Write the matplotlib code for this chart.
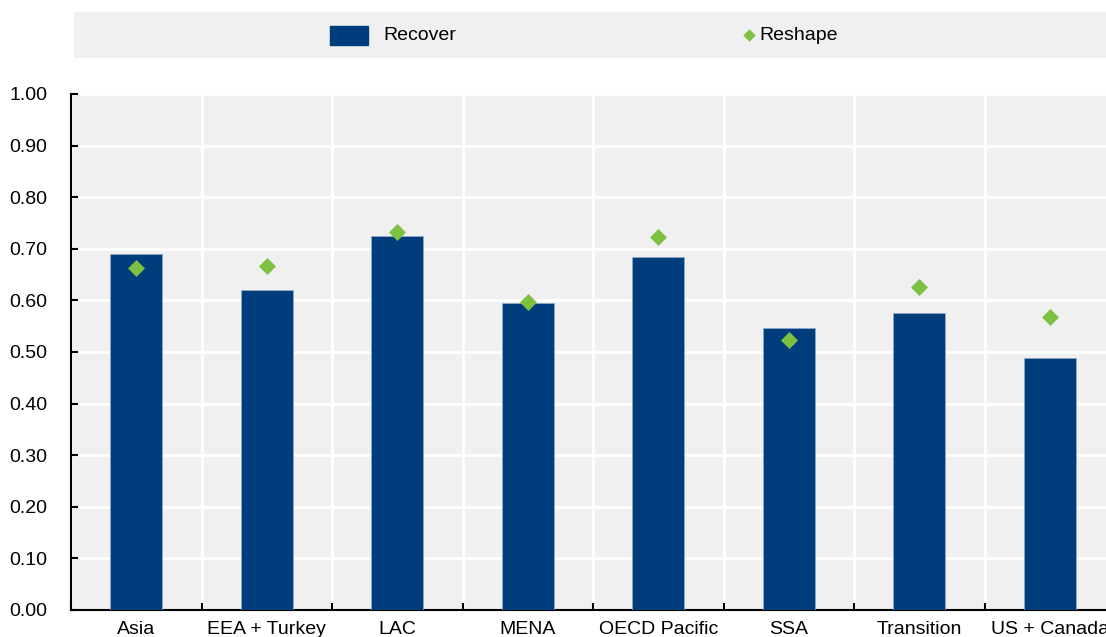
import matplotlib
matplotlib.use("Agg")
import matplotlib.pyplot as plt
from matplotlib import font_manager
import numpy as np

regions = ["Asia", "EEA + Turkey", "LAC", "MENA", "OECD Pacific", "SSA", "Transition", "US + Canada"]
recover = [0.690, 0.620, 0.725, 0.595, 0.684, 0.547, 0.576, 0.488]
reshape = [0.663, 0.667, 0.733, 0.597, 0.723, 0.523, 0.626, 0.568]
yticks = [0.0, 0.1, 0.2, 0.3, 0.4, 0.5, 0.6, 0.7, 0.8, 0.9, 1.0]

names = {f.name for f in font_manager.fontManager.ttflist}
family = "Liberation Sans Narrow" if "Liberation Sans Narrow" in names else "Liberation Sans"
plt.rcParams["font.family"] = [family, "DejaVu Sans"]

BAR = "#003D7C"
DIAMOND = "#7DC142"
BG = "#F0F0F0"

W, H = 1106, 637
fig = plt.figure(figsize=(W / 100, H / 100), dpi=100)

# main axes: left spine at x=71, bottom at y=610, top (1.00) at y=94
x0, x1 = 71, 71 + 8 * 130.5
ax = fig.add_axes([x0 / W, (H - 610) / H, (x1 - x0) / W, (610 - 94) / H])
ax.set_facecolor(BG)

x = np.arange(len(regions))
ax.bar(x, recover, width=0.40, color=BAR, edgecolor="#8FA9C8", linewidth=0.6, zorder=3)
ax.scatter(x, reshape, marker="D", s=75, color=DIAMOND, zorder=4, linewidths=0)

ax.set_xlim(-0.5, len(regions) - 0.5)
ax.set_ylim(0, 1.0)
ax.set_yticks(yticks)
ax.set_yticklabels([f"{v:.2f}" for v in yticks], fontsize=14)

# category labels centred, ticks on boundaries
ax.set_xticks(x)
ax.set_xticklabels(regions, fontsize=14)
ax.tick_params(axis="x", which="major", length=0, pad=8)
ax.set_xticks(np.arange(len(regions) + 1) - 0.5, minor=True)
ax.tick_params(axis="x", which="minor", direction="in", length=5, width=1.5, color="black")
ax.tick_params(axis="y", direction="in", length=5, width=1.5, pad=17)

ax.grid(True, which="minor", axis="x", color="white", linewidth=2, zorder=0)
ax.grid(True, which="major", axis="y", color="white", linewidth=2, zorder=0)
ax.set_axisbelow(True)

for side in ("top", "right"):
    ax.spines[side].set_visible(False)
for side in ("left", "bottom"):
    ax.spines[side].set_linewidth(1.5)

# legend strip
lax = fig.add_axes([74 / W, (H - 58) / H, (W - 74) / W, 46 / H])
lax.set_xlim(74, W)
lax.set_ylim(0, 46)
lax.set_facecolor(BG)
lax.set_xticks([])
lax.set_yticks([])
for s in lax.spines.values():
    s.set_visible(False)
lax.add_patch(plt.Rectangle((330, 13), 38, 19, color=BAR))
lax.text(383, 23, "Recover", fontsize=14, va="center", ha="left")
lax.scatter([749], [23], marker="D", s=40, color=DIAMOND, linewidths=0)
lax.text(759, 23, "Reshape", fontsize=14, va="center", ha="left")

fig.savefig("out.png", dpi=100)
